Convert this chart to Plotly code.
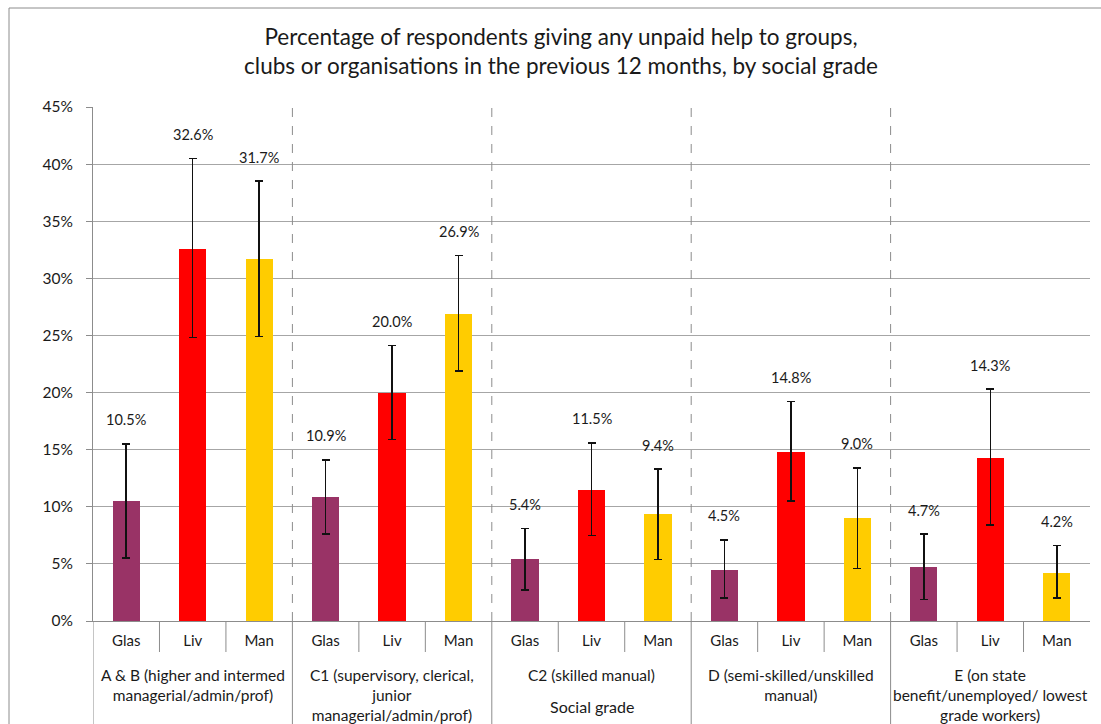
import plotly.graph_objects as go

# ---- data ----
groups = ["A & B (higher and intermed<br>managerial/admin/prof)",
          "C1 (supervisory, clerical,<br>junior<br>managerial/admin/prof)",
          "C2 (skilled manual)",
          "D (semi-skilled/unskilled<br>manual)",
          "E (on state<br>benefit/unemployed/ lowest<br>grade workers)"]
cities = ["Glas", "Liv", "Man"]
city_colors = {"Glas": "#993366", "Liv": "#FF0000", "Man": "#FFCC00"}

values = [10.5, 32.6, 31.7,
          10.9, 20.0, 26.9,
          5.4, 11.5, 9.4,
          4.5, 14.8, 9.0,
          4.7, 14.3, 4.2]
upper = [15.5, 40.5, 38.5,
         14.1, 24.1, 32.0,
         8.1, 15.6, 13.3,
         7.1, 19.2, 13.4,
         7.6, 20.3, 6.6]
lower = [5.5, 24.8, 24.9,
         7.6, 15.9, 21.9,
         2.7, 7.5, 5.4,
         2.0, 10.5, 4.6,
         1.9, 8.4, 2.0]
y_ticks = [0, 5, 10, 15, 20, 25, 30, 35, 40, 45]

title = ("Percentage of respondents giving any unpaid help to groups,<br>"
         "clubs or organisations in the previous 12 months, by social grade")
axis_title = "Social grade"

# ---- derived ----
n_c = len(cities)
xs = list(range(len(groups) * n_c))
labels = [cities[i % n_c] for i in xs]
colors = [city_colors[c] for c in labels]
err_plus = [u - v for u, v in zip(upper, values)]
err_minus = [v - l for v, l in zip(values, lower)]

FONT = "Lato, 'Open Sans', sans-serif"
TXT = "#1a1a1a"

fig = go.Figure()
fig.add_trace(go.Bar(
    x=xs, y=values, width=0.41,
    marker=dict(color=colors, line=dict(width=0)),
    error_y=dict(type="data", symmetric=False, array=err_plus, arrayminus=err_minus,
                 color="#111111", thickness=1.5, width=4),
    hoverinfo="skip", showlegend=False,
))

annotations = []
# value labels above the upper error bar
for x, v, u in zip(xs, values, upper):
    annotations.append(dict(x=x, y=u, xref="x", yref="y", text=f"{v:.1f}%",
                            showarrow=False, yanchor="middle", yshift=24,
                            font=dict(size=14.5, color=TXT, family=FONT)))
# group labels
for gi, g in enumerate(groups):
    annotations.append(dict(x=gi * n_c + (n_c - 1) / 2, y=0, xref="x", yref="paper",
                            text=g, showarrow=False, yanchor="top", yshift=-43,
                            align="center",
                            font=dict(size=15.5, color=TXT, family=FONT)))
# axis title
annotations.append(dict(x=(len(groups) // 2) * n_c + (n_c - 1) / 2, y=0, xref="x", yref="paper",
                        text=axis_title, showarrow=False, yanchor="middle", yshift=-85,
                        font=dict(size=16, color=TXT, family=FONT)))

shapes = []
plot_h = 514.0
# separators between categories below the axis
for i in range(len(xs)):
    b = i - 0.5
    is_group = (i % n_c == 0)
    shapes.append(dict(type="line", xref="x", yref="paper", x0=b, x1=b,
                       y0=0, y1=(-140 if is_group else -31) / plot_h,
                       line=dict(color="#8c8c8c", width=1)))
    if is_group and 0 < i:
        shapes.append(dict(type="line", xref="x", yref="y", x0=b, x1=b,
                           y0=0, y1=y_ticks[-1],
                           line=dict(color="#8c8c8c", width=1, dash="dash")))
# outer chart frame
shapes.append(dict(type="rect", xref="paper", yref="paper",
                   x0=(9 - 93) / 997, x1=1.2, y0=(621 - 8) / plot_h, y1=-0.5,
                   line=dict(color="#8c8c8c", width=1), layer="below"))

fig.update_layout(
    width=1101, height=724,
    margin=dict(l=93, r=11, t=107, b=103),
    paper_bgcolor="white", plot_bgcolor="white",
    font=dict(family=FONT, color=TXT),
    title=dict(text=title, x=561 / 1101, xanchor="center", y=1 - 45 / 724, yanchor="middle",
               font=dict(size=22.5, color=TXT, family=FONT)),
    bargap=0,
    xaxis=dict(range=[-0.5, len(xs) - 0.5], tickmode="array", tickvals=xs, ticktext=labels,
               ticks="", showgrid=False, zeroline=False, showline=True,
               linecolor="#8c8c8c", linewidth=1, ticklabelstandoff=6,
               tickfont=dict(size=15, color=TXT, family=FONT), fixedrange=True),
    yaxis=dict(range=[0, 45], tickmode="array", tickvals=y_ticks,
               ticktext=[f"{t}%" for t in y_ticks],
               ticks="outside", ticklen=6, tickcolor="#8c8c8c",
               showgrid=True, gridcolor="#a6a6a6", gridwidth=1,
               zeroline=False, showline=True, linecolor="#8c8c8c", linewidth=1,
               ticklabelstandoff=10,
               tickfont=dict(size=15.5, color=TXT, family=FONT), fixedrange=True),
    annotations=annotations, shapes=shapes,
)

fig.write_html("out.html", config={"displayModeBar": False},
               post_script="document.body.style.margin='0px';")
